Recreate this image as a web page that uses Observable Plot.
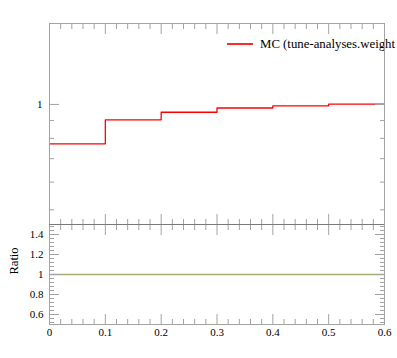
<!DOCTYPE html>
<html><head><meta charset="utf-8">
<script src="https://cdn.jsdelivr.net/npm/d3@7"></script>
<script src="https://cdn.jsdelivr.net/npm/@observablehq/plot@0.6"></script>
<style>
body{margin:0;background:#fff;}
#c{position:relative;width:397px;height:358px;overflow:hidden;}
#c svg{position:absolute;left:0;top:0;background:transparent;}
#c svg text{font-family:"Liberation Serif",serif !important;}
#legend{position:absolute;left:227px;top:36px;height:16px;font-family:"Liberation Serif",serif;font-size:12.8px;line-height:16px;white-space:nowrap;color:#000;}
#legend .sw{position:absolute;left:0;top:7px;width:26px;height:2px;background:#ff2a2a;}
#legend .tx{position:absolute;left:33px;top:0;}
</style></head><body><div id="c"><div id="legend"><span class="sw"></span><span class="tx" id="legtext"></span></div></div>
<script>
// ---- data ----
const binEdges = [0, 0.1, 0.2, 0.3, 0.4, 0.5, 0.6];
const mcValues = [0.772, 0.904, 0.950, 0.977, 0.991, 1.002];
const ratioValues = [1, 1, 1, 1, 1, 1];
const seriesLabel = "MC (tune-analyses.weight";
const yLabelRatio = "Ratio";
const xMajorTicks = [0, 0.1, 0.2, 0.3, 0.4, 0.5, 0.6];
const xTickLabels = ["0", "0.1", "0.2", "0.3", "0.4", "0.5", "0.6"];
const upperMajorTicks = [1];
const upperTickLabels = ["1"];
const upperMinorTicks = [0.5, 0.6, 0.7, 0.8, 0.9];
const ratioMajorTicks = [0.6, 0.8, 1, 1.2, 1.4];
const ratioTickLabels = ["0.6", "0.8", "1", "1.2", "1.4"];
const xMinorTicks = d3.range(0, 31).filter(i => i % 5 !== 0).map(i => i / 50);
const ratioMinorTicks = d3.range(13, 38).filter(i => i % 5 !== 0).map(i => i * 0.04);

document.getElementById("legtext").textContent = seriesLabel;

const W = 397, H = 358, L = 49, R = 13;
const font = "Liberation Serif, serif";
const frameColor = "#a3a3a3";
const stepPts = vals => binEdges.map((e, i) => ({x: e, y: vals[Math.min(i, vals.length - 1)]}));

function ticksX(values, size, anchor) {
  return Plot.axisX(values, {anchor, tickSize: size, dy: anchor === "top" ? size : -size, fill: "none", stroke: frameColor, label: null});
}
function ticksY(values, size, anchor) {
  return Plot.axisY(values, {anchor, tickSize: size, dx: anchor === "left" ? size : -size, fill: "none", stroke: frameColor, label: null});
}
function allTicks(yMajor, yMinor) {
  return [
    ticksX(xMajorTicks, 10, "top"), ticksX(xMinorTicks, 5, "top"),
    ticksX(xMajorTicks, 10, "bottom"), ticksX(xMinorTicks, 5, "bottom"),
    ticksY(yMajor, 10, "left"), ticksY(yMinor, 5, "left"),
    ticksY(yMajor, 10, "right"), ticksY(yMinor, 5, "right")
  ];
}

const upper = Plot.plot({
  width: W, height: H, marginLeft: L, marginRight: R, marginTop: 23, marginBottom: H - 224,
  style: {fontFamily: font, fontSize: "11px", background: "transparent", color: "#000"},
  x: {domain: [0, 0.6], axis: null},
  y: {type: "log", domain: [0.454, 1.703], axis: null},
  marks: [
    Plot.line(stepPts(mcValues), {x: "x", y: "y", curve: "step-after", stroke: "#ff0000", strokeWidth: 1.3}),
    ...allTicks(upperMajorTicks, upperMinorTicks),
    Plot.axisY(upperMajorTicks, {anchor: "left", tickSize: 1e-6, stroke: "none", tickPadding: 7, label: null,
      tickFormat: d => upperTickLabels[upperMajorTicks.indexOf(d)]}),
    Plot.frame({stroke: frameColor})
  ]
});

const lower = Plot.plot({
  width: W, height: H, marginLeft: L, marginRight: R, marginTop: 224, marginBottom: H - 324,
  style: {fontFamily: font, fontSize: "11px", background: "transparent", color: "#000"},
  x: {domain: [0, 0.6], axis: null},
  y: {domain: [0.5, 1.5], axis: null},
  marks: [
    Plot.line(stepPts(ratioValues), {x: "x", y: "y", curve: "step-after", stroke: "#a9ad6e", strokeWidth: 1.3}),
    ...allTicks(ratioMajorTicks, ratioMinorTicks),
    Plot.axisX(xMajorTicks, {anchor: "bottom", tickSize: 1e-6, stroke: "none", tickPadding: 4, label: null,
      tickFormat: d => xTickLabels[xMajorTicks.indexOf(d)]}),
    Plot.axisY(ratioMajorTicks, {anchor: "left", tickSize: 1e-6, stroke: "none", tickPadding: 6, label: null,
      tickFormat: d => ratioTickLabels[ratioMajorTicks.indexOf(d)]}),
    Plot.text([yLabelRatio], {frameAnchor: "left", rotate: -90, dx: -36, fontSize: 12.5}),
    Plot.frame({stroke: frameColor}),
    Plot.ruleY([1.5], {stroke: "#7a7a7a"})
  ]
});

const c = document.getElementById("c");
c.appendChild(upper);
c.appendChild(lower);
</script></body></html>
